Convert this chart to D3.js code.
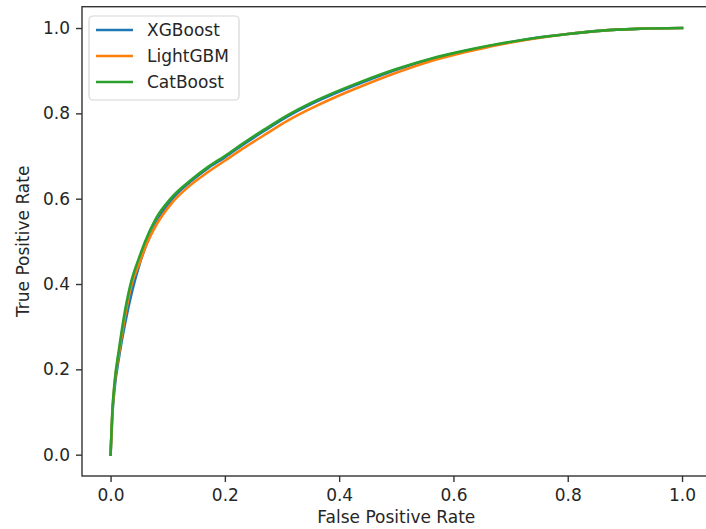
<!DOCTYPE html>
<html>
<head>
<meta charset="utf-8">
<script src="https://cdn.jsdelivr.net/npm/d3@7"></script>
<style>
  body { margin: 0; background: #fff; }
  svg { display: block; font-family: "DejaVu Sans", sans-serif; }
</style>
</head>
<body>
<svg id="chart" width="706" height="529"></svg>
<script>
// ROC curves (fpr, tpr)
var fprXGB = [0, 0.003, 0.007, 0.015, 0.025, 0.038, 0.052, 0.062, 0.082, 0.106, 0.14, 0.17, 0.2, 0.23, 0.27, 0.31, 0.35, 0.39, 0.44, 0.5, 0.56, 0.62, 0.68, 0.74, 0.8, 0.86, 0.92, 1.0];
var tprXGB = [0, 0.09, 0.155, 0.23, 0.305, 0.385, 0.452, 0.49, 0.548, 0.596, 0.64, 0.671, 0.697, 0.725, 0.76, 0.793, 0.821, 0.845, 0.872, 0.902, 0.927, 0.946, 0.962, 0.976, 0.986, 0.994, 0.998, 1.0];

var fprLGB = [0, 0.003, 0.007, 0.015, 0.024, 0.036, 0.052, 0.062, 0.082, 0.106, 0.14, 0.17, 0.2, 0.23, 0.27, 0.31, 0.35, 0.39, 0.44, 0.5, 0.56, 0.62, 0.68, 0.74, 0.8, 0.86, 0.92, 1.0];
var tprLGB = [0, 0.095, 0.165, 0.24, 0.315, 0.395, 0.454, 0.49, 0.543, 0.588, 0.632, 0.662, 0.689, 0.716, 0.75, 0.783, 0.811, 0.836, 0.864, 0.895, 0.922, 0.943, 0.961, 0.975, 0.986, 0.994, 0.998, 1.0];

var fprCat = [0, 0.003, 0.007, 0.0145, 0.023, 0.035, 0.05, 0.06, 0.08, 0.105, 0.14, 0.17, 0.2, 0.23, 0.27, 0.31, 0.35, 0.39, 0.44, 0.5, 0.56, 0.62, 0.68, 0.74, 0.8, 0.86, 0.92, 1.0];
var tprCat = [0, 0.10, 0.17, 0.245, 0.32, 0.40, 0.462, 0.498, 0.555, 0.60, 0.643, 0.674, 0.70, 0.728, 0.763, 0.796, 0.824, 0.848, 0.875, 0.904, 0.928, 0.947, 0.963, 0.976, 0.986, 0.994, 0.998, 1.0];

var seriesNames = ["XGBoost", "LightGBM", "CatBoost"];
var seriesColors = ["#1f77b4", "#ff7f0e", "#2ca02c"];
var tickValues = [0, 0.2, 0.4, 0.6, 0.8, 1.0];

var series = [
  { name: seriesNames[0], color: seriesColors[0], fpr: fprXGB, tpr: tprXGB },
  { name: seriesNames[1], color: seriesColors[1], fpr: fprLGB, tpr: tprLGB },
  { name: seriesNames[2], color: seriesColors[2], fpr: fprCat, tpr: tprCat }
];

var svg = d3.select("#chart");
var fontSize = 17;

// plot area (matplotlib style, 5% margins)
var plotLeft = 82, plotRight = 710.6, plotTop = 6.7, plotBottom = 476;
var x = d3.scaleLinear().domain([-0.05, 1.05]).range([plotLeft, plotRight]);
var y = d3.scaleLinear().domain([-0.05, 1.05]).range([plotBottom, plotTop]);

var line = d3.line()
  .x(function(d) { return x(d[0]); })
  .y(function(d) { return y(d[1]); })
  .curve(d3.curveMonotoneX);

var plot = svg.append("g");
series.forEach(function(s) {
  var pts = s.fpr.map(function(f, i) { return [f, s.tpr[i]]; });
  plot.append("path")
    .datum(pts)
    .attr("fill", "none")
    .attr("stroke", s.color)
    .attr("stroke-width", 2.6)
    .attr("stroke-linejoin", "round")
    .attr("stroke-linecap", "square")
    .attr("d", line);
});

// axes
var xAxis = d3.axisBottom(x).tickValues(tickValues).tickFormat(d3.format(".1f")).tickSize(6).tickPadding(6);
var yAxis = d3.axisLeft(y).tickValues(tickValues).tickFormat(d3.format(".1f")).tickSize(6).tickPadding(6);

var gx = svg.append("g").attr("transform", "translate(0," + plotBottom + ")").call(xAxis);
var gy = svg.append("g").attr("transform", "translate(" + plotLeft + ",0)").call(yAxis);
[gx, gy].forEach(function(g) {
  g.select(".domain").remove();
  g.selectAll(".tick line").attr("stroke", "#333").attr("stroke-width", 1.4);
  g.selectAll(".tick text").attr("fill", "#262626").attr("font-size", fontSize)
    .attr("font-family", "DejaVu Sans");
});
gx.selectAll(".tick text").attr("dy", "0.75em");

// frame
svg.append("rect")
  .attr("x", plotLeft).attr("y", plotTop)
  .attr("width", plotRight - plotLeft).attr("height", plotBottom - plotTop)
  .attr("fill", "none").attr("stroke", "#333").attr("stroke-width", 1.4);

// axis labels
svg.append("text")
  .attr("x", x(0.5)).attr("y", 523)
  .attr("text-anchor", "middle").attr("font-size", fontSize).attr("fill", "#262626")
  .text("False Positive Rate");

svg.append("text")
  .attr("transform", "translate(29," + y(0.5) + ") rotate(-90)")
  .attr("text-anchor", "middle").attr("font-size", fontSize).attr("fill", "#262626")
  .text("True Positive Rate");

// legend
var legend = svg.append("g").attr("transform", "translate(89,16)");
legend.append("rect")
  .attr("width", 150).attr("height", 84).attr("rx", 4)
  .attr("fill", "#fff").attr("fill-opacity", 0.8)
  .attr("stroke", "#d6d6d6").attr("stroke-width", 1.2);

series.forEach(function(s, i) {
  var row = legend.append("g").attr("transform", "translate(0," + (14 + i * 26) + ")");
  row.append("line")
    .attr("x1", 7).attr("x2", 44).attr("y1", 0).attr("y2", 0)
    .attr("stroke", s.color).attr("stroke-width", 2.6);
  row.append("text")
    .attr("x", 58).attr("y", 6)
    .attr("font-size", fontSize).attr("fill", "#262626")
    .text(s.name);
});
</script>
</body>
</html>
